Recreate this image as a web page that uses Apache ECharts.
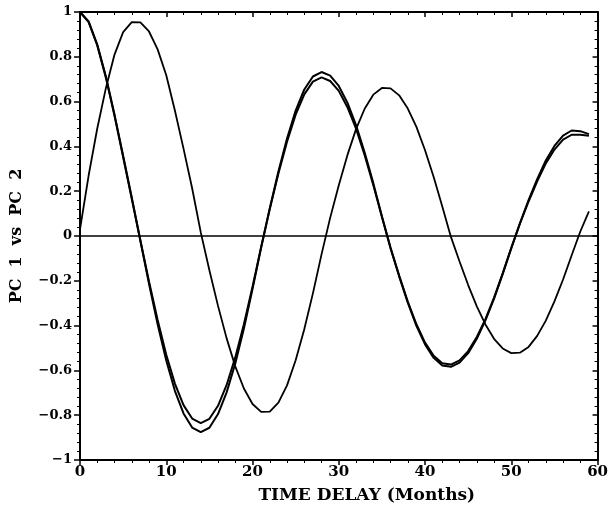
<!DOCTYPE html>
<html>
<head>
<meta charset="utf-8">
<script src="https://cdn.jsdelivr.net/npm/echarts@6/dist/echarts.min.js"></script>
<style>
  html, body { margin: 0; padding: 0; background: #fff; }
  #chart { width: 611px; height: 512px; }
</style>
</head>
<body>
<div id="chart"></div>
<script>
// time delay in months
const lags = [0,1,2,3,4,5,6,7,8,9,10,11,12,13,14,15,16,17,18,19,20,21,22,23,24,25,26,27,28,29,
  30,31,32,33,34,35,36,37,38,39,40,41,42,43,44,45,46,47,48,49,50,51,52,53,54,55,56,57,58,59];

// PC 1 lagged correlation (outer of the pair)
const pc1Auto = [1.000,0.958,0.855,0.712,0.542,0.358,0.172,-0.021,-0.213,-0.394,
  -0.556,-0.691,-0.792,-0.855,-0.876,-0.856,-0.795,-0.698,-0.569,-0.413,
  -0.237,-0.051,0.124,0.288,0.435,0.560,0.654,0.712,0.732,0.716,
  0.670,0.595,0.495,0.373,0.236,0.088,-0.054,-0.180,-0.298,-0.401,
  -0.484,-0.544,-0.578,-0.584,-0.565,-0.523,-0.459,-0.377,-0.280,-0.170,
  -0.054,0.057,0.160,0.254,0.337,0.402,0.448,0.471,0.468,0.455];

// PC 2 lagged correlation (inner of the pair)
const pc2Auto = [1.000,0.955,0.851,0.707,0.537,0.353,0.166,-0.020,-0.203,-0.375,
  -0.530,-0.659,-0.755,-0.815,-0.835,-0.816,-0.758,-0.665,-0.542,-0.394,
  -0.226,-0.049,0.120,0.279,0.421,0.542,0.632,0.689,0.708,0.692,
  0.648,0.575,0.479,0.361,0.228,0.085,-0.053,-0.177,-0.293,-0.394,
  -0.476,-0.535,-0.568,-0.574,-0.555,-0.514,-0.451,-0.371,-0.275,-0.167,
  -0.053,0.055,0.154,0.244,0.324,0.386,0.430,0.452,0.452,0.448];

// PC 1 vs PC 2 cross correlation
const pcCross = [0.030,0.270,0.480,0.660,0.810,0.910,0.955,0.954,0.913,0.833,
  0.718,0.560,0.390,0.213,0.016,-0.153,-0.312,-0.457,-0.582,-0.681,
  -0.750,-0.785,-0.784,-0.744,-0.667,-0.555,-0.416,-0.256,-0.082,0.081,
  0.227,0.361,0.477,0.568,0.631,0.661,0.659,0.628,0.569,0.487,
  0.383,0.263,0.132,-0.004,-0.114,-0.219,-0.314,-0.395,-0.459,-0.502,
  -0.523,-0.521,-0.495,-0.446,-0.378,-0.292,-0.194,-0.086,0.020,0.110];

const xTicks = [0, 10, 20, 30, 40, 50, 60];
const yTicks = [-1, -0.8, -0.6, -0.4, -0.2, 0, 0.2, 0.4, 0.6, 0.8, 1];

let myChart = echarts.init(document.getElementById("chart"));

const pairs = (ys) => lags.map((x, i) => [x, ys[i]]);
const fmtY = (v) => String(Math.round(v * 10) / 10).replace("-", "\u2212");
const serif = "DejaVu Serif";
const lineCol = "#000";

const baseAxis = {
  axisLine: { show: true, onZero: false, lineStyle: { color: lineCol, width: 2 } },
  splitLine: { show: false }
};

let option = {
  animation: false,
  backgroundColor: "#fff",
  grid: { left: 80, right: 11, top: 12, bottom: 52 },
  xAxis: [
    Object.assign({}, baseAxis, {
      type: "value", min: xTicks[0], max: xTicks[xTicks.length - 1], interval: 10,
      position: "bottom",
      axisTick: { show: true, length: 5, lineStyle: { color: lineCol, width: 1.5 } },
      minorTick: { show: true, splitNumber: 5, length: 3, lineStyle: { color: lineCol, width: 1 } },
      axisLabel: { margin: 5, color: lineCol, fontFamily: serif, fontWeight: "bold", fontSize: 15 },
      name: "TIME DELAY (Months)", nameLocation: "middle", nameGap: 27,
      nameTextStyle: { color: lineCol, fontFamily: serif, fontWeight: "bold", fontSize: 17, padding: [0, 0, 0, 56] }
    }),
    Object.assign({}, baseAxis, {
      type: "value", min: xTicks[0], max: xTicks[xTicks.length - 1], interval: 10,
      position: "top",
      axisTick: { show: true, inside: true, length: 5, lineStyle: { color: lineCol, width: 1.5 } },
      minorTick: { show: true, splitNumber: 5, length: 3, lineStyle: { color: lineCol, width: 1 } },
      axisLabel: { show: false }
    })
  ],
  yAxis: [
    Object.assign({}, baseAxis, {
      type: "value", min: yTicks[0], max: yTicks[yTicks.length - 1], interval: 0.2,
      position: "left",
      axisTick: { show: true, length: 6, lineStyle: { color: lineCol, width: 1.5 } },
      minorTick: { show: true, splitNumber: 5, length: 3, lineStyle: { color: lineCol, width: 1 } },
      axisLabel: { margin: 8, color: lineCol, fontFamily: serif, fontWeight: "bold", fontSize: 13, formatter: fmtY },
      name: "PC  1  vs  PC  2", nameLocation: "middle", nameGap: 55,
      nameTextStyle: { color: lineCol, fontFamily: serif, fontWeight: "bold", fontSize: 16 }
    }),
    Object.assign({}, baseAxis, {
      type: "value", min: yTicks[0], max: yTicks[yTicks.length - 1], interval: 0.2,
      position: "right",
      axisTick: { show: true, inside: true, length: 5, lineStyle: { color: lineCol, width: 1.5 } },
      minorTick: { show: true, splitNumber: 5, length: 3, lineStyle: { color: lineCol, width: 1 } },
      axisLabel: { show: false }
    })
  ],
  series: [
    {
      name: "PC 1", type: "line", data: pairs(pc1Auto), showSymbol: false, symbol: "none",
      lineStyle: { color: lineCol, width: 2 },
      markLine: {
        silent: true, symbol: "none", label: { show: false },
        lineStyle: { color: lineCol, width: 1.5, type: "solid" },
        data: [{ yAxis: 0 }]
      }
    },
    {
      name: "PC 2", type: "line", data: pairs(pc2Auto), showSymbol: false, symbol: "none",
      lineStyle: { color: lineCol, width: 2 }
    },
    {
      name: "cross", type: "line", data: pairs(pcCross), showSymbol: false, symbol: "none",
      lineStyle: { color: lineCol, width: 1.8 }
    }
  ]
};

myChart.setOption(option);
</script>
</body>
</html>
